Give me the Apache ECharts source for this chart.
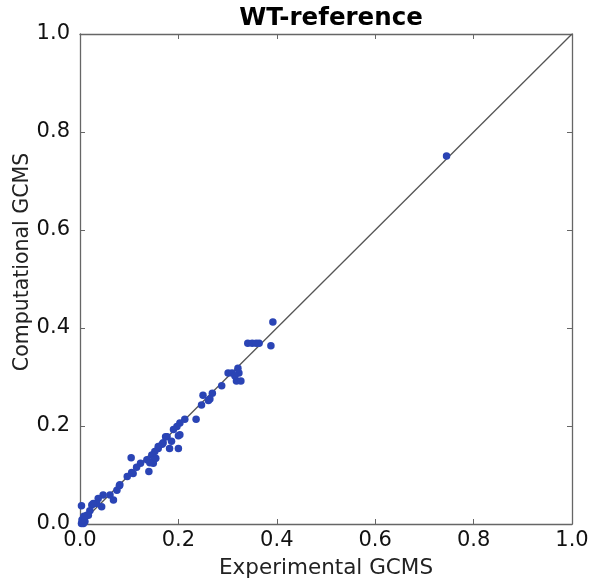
<!DOCTYPE html>
<html><head><meta charset="utf-8">
<script src="https://cdn.jsdelivr.net/npm/echarts@6/dist/echarts.min.js"></script>
<style>html,body{margin:0;padding:0;background:#fff}#c{width:592px;height:582px}</style>
</head><body><div id="c"></div>
<script>
const titleText = 'WT-reference';
const xLabel = 'Experimental GCMS';
const yLabel = 'Computational GCMS';
const experimental = [0.745,0.392,0.388,0.341,0.350,0.358,0.364,0.321,0.323,0.318,0.327,0.301,0.309,0.315,0.288,0.269,0.250,0.261,0.264,0.247,0.236,0.213,0.203,0.197,0.203,0.190,0.200,0.177,0.169,0.186,0.182,0.200,0.159,0.152,0.146,0.104,0.154,0.149,0.140,0.123,0.115,0.105,0.096,0.080,0.075,0.061,0.047,0.068,0.037,0.044,0.034,0.024,0.020,0.003,0.014,0.007,0.010,0.003,0.108,0.027,0.017,0.007,0.081,0.136,0.167,0.159,0.174,0.150,0.142,0.004,0.008];
const computational = [0.751,0.412,0.364,0.369,0.369,0.369,0.369,0.318,0.308,0.292,0.292,0.308,0.308,0.302,0.282,0.267,0.263,0.252,0.255,0.243,0.214,0.214,0.206,0.199,0.182,0.193,0.180,0.178,0.166,0.169,0.154,0.154,0.154,0.148,0.141,0.135,0.134,0.124,0.107,0.124,0.116,0.105,0.097,0.078,0.069,0.059,0.059,0.049,0.052,0.035,0.042,0.039,0.027,0.037,0.018,0.012,0.005,0.001,0.103,0.042,0.018,0.001,0.080,0.131,0.163,0.158,0.178,0.131,0.125,0.008,0.016];
const diagX = [0, 1];
const diagY = [0, 1];
const tickLabels = ['0.0','0.2','0.4','0.6','0.8','1.0'];

const pts = experimental.map((x,i)=>[x, computational[i]]);
const diag = diagX.map((x,i)=>[x, diagY[i]]);
const font = 'DejaVu Sans';
const fmt = v => tickLabels[Math.round(v*5)];
const axisCommon = {
  min:0, max:1, interval:0.2,
  axisLine:{show:true, onZero:false, lineStyle:{color:'#666', width:1.3}},
  axisTick:{show:true, inside:true, length:5, lineStyle:{color:'#666'}},
  splitLine:{show:false}
};
const chart = echarts.init(document.getElementById('c'), null, {renderer:'canvas'});
chart.setOption({
  animation:false,
  backgroundColor:'#fff',
  title:{text:titleText, left:326, top:1, textAlign:'center',
    textStyle:{fontFamily:font, fontWeight:'bold', fontSize:24.5, color:'#000'}},
  grid:{left:80, right:20, top:34, bottom:58, outerBoundsMode:'none', containLabel:false},
  xAxis:[
    Object.assign({type:'value', position:'bottom', name:xLabel, nameLocation:'middle', nameGap:33, nameMoveOverlap:false,
      nameTextStyle:{fontFamily:font, fontSize:21.5, color:'#222'},
      axisLabel:{formatter:fmt, fontFamily:font, fontSize:21, color:'#111', margin:6}}, axisCommon),
    Object.assign({type:'value', position:'top', axisLabel:{show:false}}, axisCommon)
  ],
  yAxis:[
    Object.assign({type:'value', position:'left', name:yLabel, nameLocation:'middle', nameGap:47, nameMoveOverlap:false,
      nameTextStyle:{fontFamily:font, fontSize:20.5, color:'#222', padding:[0,0,0,34]},
      axisLabel:{formatter:fmt, fontFamily:font, fontSize:21, color:'#111', margin:10}}, axisCommon),
    Object.assign({type:'value', position:'right', axisLabel:{show:false}}, axisCommon)
  ],
  series:[
    {type:'line', data:diag, symbol:'none', lineStyle:{color:'#555', width:1.3}, silent:true, z:1},
    {type:'scatter', data:pts, symbolSize:7.5, itemStyle:{color:'#2a44b5', opacity:1}, z:2}
  ]
});
</script></body></html>
